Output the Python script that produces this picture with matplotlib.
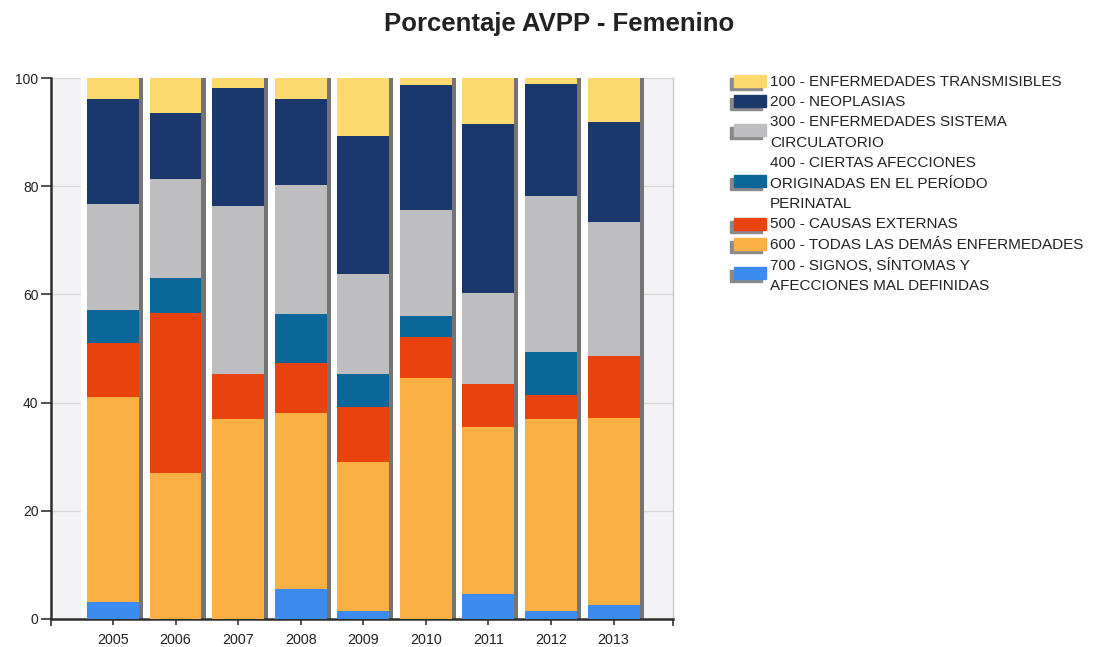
import numpy as np
import matplotlib.pyplot as plt
from matplotlib.patches import Rectangle

plt.rcParams['font.family'] = ['Liberation Sans', 'DejaVu Sans']

years = ['2005', '2006', '2007', '2008', '2009', '2010', '2011', '2012', '2013']

# Porcentaje por grupo de causas (de abajo hacia arriba en cada barra)
signos = [3.2, 0.0, 0.0, 5.5, 1.4, 0.0, 4.6, 1.5, 2.6]
demas = [37.9, 27.0, 36.9, 32.5, 27.6, 44.5, 30.8, 35.4, 34.6]
externas = [10.0, 29.5, 8.4, 9.3, 10.1, 7.7, 8.0, 4.5, 11.4]
perinatal = [6.1, 6.5, 0.0, 9.1, 6.1, 3.8, 0.0, 8.0, 0.0]
circulatorio = [19.5, 18.3, 31.1, 23.8, 18.6, 19.6, 16.9, 28.8, 24.7]
neoplasias = [19.4, 12.2, 21.7, 16.0, 25.4, 23.1, 31.2, 20.7, 18.6]
transmisibles = [3.9, 6.5, 1.9, 3.8, 10.8, 1.3, 8.5, 1.1, 8.1]

legend_labels = [
    ['100 - ENFERMEDADES TRANSMISIBLES'],
    ['200 - NEOPLASIAS'],
    ['300 - ENFERMEDADES SISTEMA', 'CIRCULATORIO'],
    ['400 - CIERTAS AFECCIONES', 'ORIGINADAS EN EL PERÍODO', 'PERINATAL'],
    ['500 - CAUSAS EXTERNAS'],
    ['600 - TODAS LAS DEMÁS ENFERMEDADES'],
    ['700 - SIGNOS, SÍNTOMAS Y', 'AFECCIONES MAL DEFINIDAS'],
]

c_trans = '#FDD970'
c_neo = '#1B386C'
c_circ = '#BEBEC0'
c_peri = '#0B6699'
c_ext = '#E8420E'
c_demas = '#FAB042'
c_signos = '#3D8BEE'

# stacking order bottom -> top
stack = [
    (signos, c_signos),
    (demas, c_demas),
    (externas, c_ext),
    (perinatal, c_peri),
    (circulatorio, c_circ),
    (neoplasias, c_neo),
    (transmisibles, c_trans),
]
legend_colors = [c_trans, c_neo, c_circ, c_peri, c_ext, c_demas, c_signos]

fig = plt.figure(figsize=(10.94, 6.47), dpi=100)
ax = fig.add_axes([51 / 1094, 1 - 619 / 647, 622 / 1094, 541 / 647])
ax.set_facecolor('#F3F3F5')

x = np.arange(len(years))
totals = np.sum([s for s, _ in stack], axis=0)
bw = 0.83

ax.set_axisbelow(True)
ax.yaxis.grid(True, color='#D8D8D8', linewidth=1)

# white halo and drop shadow behind each column
ax.bar(x - 0.01, totals, width=1.0, color='white', zorder=1)
ax.bar(x + 0.065, totals, width=bw, color='#747474', zorder=2)

bottom = np.zeros(len(years))
for vals, col in stack:
    ax.bar(x, vals, width=bw, bottom=bottom, color=col, zorder=3)
    bottom += np.array(vals)

ax.set_xlim(-0.99, 8.95)
ax.set_ylim(0, 100)
ax.set_xticks(x)
ax.set_xticklabels(years)
ax.set_xticks([-0.99, 8.95], minor=True)
ax.set_yticks([0, 20, 40, 60, 80, 100])

for side in ['left', 'bottom']:
    ax.spines[side].set_color('#2E2E2E')
    ax.spines[side].set_linewidth(1.8)
ax.spines['top'].set_visible(False)
ax.spines['right'].set_color('#C8C8C8')
ax.spines['right'].set_linewidth(1.0)

ax.tick_params(axis='y', length=7, width=1.2, color='#333333', pad=2,
               labelsize=10, labelcolor='#222222')
ax.tick_params(axis='x', which='major', length=4, width=1.2, color='#333333',
               pad=6, labelsize=10.3, labelcolor='#222222')
ax.tick_params(axis='x', which='minor', length=5, width=1.2, color='#333333')

fig.text(0.511, 0.963, 'Porcentaje AVPP - Femenino', ha='center', va='center',
         fontsize=18.5, fontweight='bold', color='#222222')

# legend drawn in pixel coordinates
lg = fig.add_axes([0, 0, 1, 1])
lg.set_xlim(0, 1094)
lg.set_ylim(647, 0)
lg.axis('off')

line_y0, line_step = 81.7, 20.4
k = 0
for lines, col in zip(legend_labels, legend_colors):
    ys = [line_y0 + line_step * (k + j) for j in range(len(lines))]
    for yy, txt in zip(ys, lines):
        lg.text(770, yy, txt, ha='left', va='center', fontsize=11,
                color='#222222')
    yc = np.mean(ys) - (1.5 if len(lines) > 1 else 0)
    lg.add_patch(Rectangle((730, yc - 4), 32, 12, color='#8A8A8A'))
    lg.add_patch(Rectangle((734, yc - 7), 32, 12, color=col))
    k += len(lines)

fig.savefig('out.png', dpi=100)
